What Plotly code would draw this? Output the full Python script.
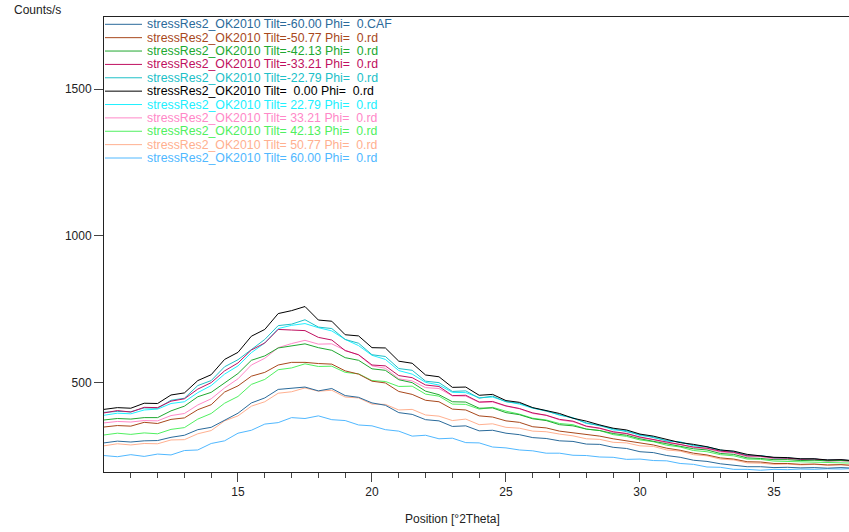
import plotly.graph_objects as go

# 2Theta positions (degrees)
two_theta = [10.0, 10.5, 11.0, 11.5, 12.0, 12.5, 13.0, 13.5, 14.0, 14.5,
             15.0, 15.5, 16.0, 16.5, 17.0, 17.5, 18.0, 18.5, 19.0, 19.5,
             20.0, 20.5, 21.0, 21.5, 22.0, 22.5, 23.0, 23.5, 24.0, 24.5,
             25.0, 25.5, 26.0, 26.5, 27.0, 27.5, 28.0, 28.5, 29.0, 29.5,
             30.0, 30.5, 31.0, 31.5, 32.0, 32.5, 33.0, 33.5, 34.0, 34.5,
             35.0, 35.5, 36.0, 36.5, 37.0, 37.5, 38.0]

tilts = ["-60.00", "-50.77", "-42.13", "-33.21", "-22.79", "0.00",
         "22.79", "33.21", "42.13", "50.77", "60.00"]
extensions = ["CAF", "rd", "rd", "rd", "rd", "rd", "rd", "rd", "rd", "rd", "rd"]
colors = ["#2a6a9a", "#a8481c", "#20a830", "#c01060", "#20c0c8", "#000000",
          "#20f0ff", "#ff88c8", "#50f060", "#ffb090", "#50b8ff"]

tilt_m60 = [296, 302, 299, 303, 304, 315, 322, 341, 349, 374,
            397, 432, 449, 478, 481, 486, 473, 481, 457, 451,
            432, 424, 399, 393, 375, 371, 352, 354, 337, 339,
            329, 324, 314, 311, 303, 301, 292, 291, 281, 277,
            266, 263, 253, 247, 237, 233, 225, 221, 215, 215,
            212, 213, 211, 212, 210, 212, 210]
tilt_m5077 = [350, 355, 353, 366, 362, 376, 381, 409, 426, 469,
              490, 523, 536, 561, 570, 570, 566, 564, 541, 530,
              506, 500, 471, 461, 441, 436, 411, 408, 388, 384,
              371, 366, 351, 347, 336, 331, 324, 319, 310, 303,
              295, 289, 278, 271, 261, 255, 245, 241, 232, 231,
              226, 226, 223, 224, 221, 222, 219]
tilt_m4213 = [374, 379, 377, 382, 382, 405, 421, 453, 468, 500,
              532, 577, 592, 619, 626, 633, 620, 611, 586, 577,
              548, 543, 511, 501, 472, 460, 436, 435, 414, 415,
              399, 392, 378, 372, 358, 354, 343, 338, 328, 322,
              310, 302, 292, 286, 276, 272, 260, 257, 245, 243,
              239, 239, 236, 237, 235, 236, 234]
tilt_m3321 = [398, 406, 401, 417, 416, 438, 446, 479, 501, 541,
              568, 612, 636, 682, 680, 678, 655, 646, 610, 596,
              561, 558, 525, 518, 493, 488, 457, 458, 435, 437,
              422, 413, 398, 390, 376, 370, 353, 346, 334, 328,
              316, 308, 298, 292, 282, 278, 268, 264, 252, 251,
              245, 244, 240, 241, 237, 238, 235]
tilt_m2279 = [400, 403, 402, 415, 414, 441, 448, 491, 508, 555,
              579, 615, 648, 695, 700, 715, 690, 685, 648, 635,
              596, 590, 549, 543, 506, 501, 471, 473, 448, 455,
              436, 431, 415, 404, 391, 380, 364, 354, 344, 336,
              324, 316, 304, 298, 288, 282, 272, 265, 254, 252,
              246, 245, 241, 241, 237, 238, 234]
tilt_0 = [410, 416, 414, 431, 430, 459, 466, 508, 528, 580,
          604, 659, 682, 736, 746, 760, 714, 710, 664, 660,
          620, 619, 574, 567, 527, 521, 485, 486, 458, 461,
          440, 434, 416, 406, 396, 380, 370, 357, 346, 340,
          326, 319, 309, 297, 291, 283, 272, 268, 257, 253,
          247, 246, 242, 242, 238, 239, 235]
tilt_p2279 = [390, 397, 395, 408, 411, 430, 436, 467, 491, 530,
              558, 603, 636, 685, 696, 702, 688, 677, 648, 627,
              594, 580, 542, 530, 502, 493, 468, 467, 450, 452,
              437, 428, 414, 406, 390, 382, 362, 357, 340, 338,
              321, 317, 302, 300, 286, 283, 270, 267, 253, 253,
              245, 245, 240, 241, 237, 238, 235]
tilt_p3321 = [364, 369, 367, 372, 371, 389, 396, 425, 446, 483,
              514, 561, 584, 620, 634, 645, 632, 633, 611, 595,
              558, 550, 514, 507, 484, 481, 456, 455, 434, 435,
              421, 412, 396, 390, 374, 368, 352, 345, 332, 327,
              314, 307, 296, 291, 280, 276, 265, 262, 249, 249,
              242, 241, 237, 238, 234, 235, 232]
tilt_p4213 = [323, 329, 325, 330, 327, 342, 348, 377, 396, 431,
              454, 495, 512, 545, 551, 565, 556, 557, 536, 531,
              508, 505, 488, 489, 462, 455, 428, 427, 411, 417,
              404, 394, 380, 374, 362, 358, 343, 338, 324, 318,
              306, 300, 288, 282, 270, 266, 256, 252, 241, 240,
              234, 233, 230, 231, 228, 229, 227]
tilt_p5077 = [286, 293, 289, 294, 293, 306, 307, 327, 338, 371,
              388, 421, 436, 465, 470, 483, 472, 475, 452, 449,
              428, 427, 408, 410, 391, 387, 372, 377, 358, 361,
              349, 346, 336, 334, 326, 320, 310, 308, 298, 296,
              286, 284, 272, 268, 256, 252, 241, 238, 228, 227,
              223, 224, 221, 223, 220, 222, 219]
tilt_p60 = [253, 249, 256, 250, 258, 255, 270, 272, 294, 303,
            329, 339, 360, 365, 382, 379, 388, 375, 372, 357,
            354, 341, 336, 319, 322, 310, 312, 297, 296, 282,
            279, 272, 269, 261, 261, 254, 253, 248, 247, 240,
            241, 236, 235, 226, 223, 214, 213, 206, 206, 203,
            206, 205, 207, 206, 208, 207, 209]

series = [tilt_m60, tilt_m5077, tilt_m4213, tilt_m3321, tilt_m2279, tilt_0,
          tilt_p2279, tilt_p3321, tilt_p4213, tilt_p5077, tilt_p60]

NB = "\u00a0"
names = []
for t, ext in zip(tilts, extensions):
    tl = t.rjust(6).replace(" ", NB)
    names.append(f"stressRes2_OK2010 Tilt={tl} Phi={NB}{NB}0.{ext}")

fig = go.Figure()
draw_order = [10, 9, 8, 7, 6, 4, 3, 2, 1, 0, 5]
for i in draw_order:
    fig.add_trace(go.Scatter(
        x=two_theta, y=series[i], mode="lines", name=names[i],
        line=dict(color=colors[i], width=1), showlegend=False,
        hoverinfo="skip"))

W, H = 849, 532
L, R, T, B = 104, 0, 17, 60
pw, ph = W - L - R, H - T - B


def px_to_paper(px, py):
    return (px - L) / pw, (H - B - py) / ph


FONT = "Liberation Sans, Arial, sans-serif"
shapes = []
annotations = []
for i, (nm, c) in enumerate(zip(names, colors)):
    py = 24.3 + 13.37 * i
    x0, yp = px_to_paper(105, py)
    x1, _ = px_to_paper(142, py)
    shapes.append(dict(type="line", xref="paper", yref="paper",
                       x0=x0, x1=x1, y0=yp, y1=yp,
                       line=dict(color=c, width=1)))
    xt, _ = px_to_paper(145, py)
    annotations.append(dict(xref="paper", yref="paper", x=xt, y=yp,
                            xanchor="left", yanchor="middle", showarrow=False,
                            text=nm, font=dict(family=FONT, size=12.3, color=c)))

cx, cy = px_to_paper(12, 10)
annotations.append(dict(xref="paper", yref="paper", x=cx, y=cy,
                        xanchor="left", yanchor="middle", showarrow=False,
                        text="Counts/s", font=dict(family=FONT, size=12, color="#222")))
tx, ty = px_to_paper(452, 519)
annotations.append(dict(xref="paper", yref="paper", x=tx, y=ty,
                        xanchor="center", yanchor="middle", showarrow=False,
                        text="Position [°2Theta]", font=dict(family=FONT, size=12, color="#222")))

fig.update_layout(
    width=W, height=H,
    margin=dict(l=L, r=R, t=T, b=B),
    paper_bgcolor="white", plot_bgcolor="white",
    shapes=shapes, annotations=annotations,
    font=dict(family=FONT, size=12, color="#222"),
    xaxis=dict(range=[10.0, 37.8], tickvals=[15, 20, 25, 30, 35],
               ticks="outside", ticklen=9, tickcolor="#444", tickwidth=1,
               showline=True, linecolor="#222", linewidth=1, mirror=True,
               showgrid=False, zeroline=False,
               minor=dict(tickvals=[11, 12, 13, 14, 16, 17, 18, 19, 21, 22, 23, 24,
                                    26, 27, 28, 29, 31, 32, 33, 34, 36, 37],
                          ticks="outside", ticklen=5, tickcolor="#444", showgrid=False),
               tickfont=dict(family=FONT, size=12, color="#222")),
    yaxis=dict(range=[197, 1745], tickvals=[500, 1000, 1500],
               ticks="outside", ticklen=9, tickcolor="#444", tickwidth=1,
               showline=True, linecolor="#222", linewidth=1,
               showgrid=False, zeroline=False,
               tickfont=dict(family=FONT, size=12, color="#222")),
)

fig.write_html("out.html", config={"displayModeBar": False},
               post_script="document.body.style.margin='0';document.body.style.padding='0';")
